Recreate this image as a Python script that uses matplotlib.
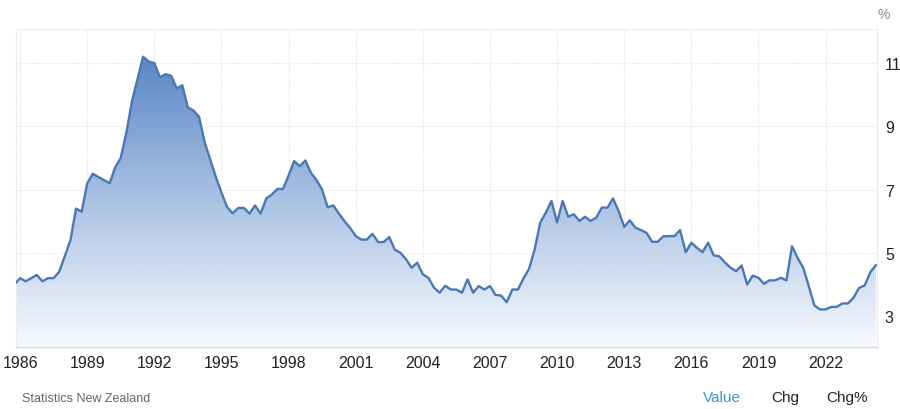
import numpy as np
import pandas as pd
import matplotlib
matplotlib.use("Agg")
import matplotlib.pyplot as plt
from matplotlib.colors import LinearSegmentedColormap

plt.rcParams['font.family'] = ['Liberation Sans', 'DejaVu Sans']

# quarterly unemployment rate (%), first point 1985 Q4
start_quarter = "1985-10-01"
rate = [
    4.0,
    4.2, 4.1, 4.2, 4.3,        # 1986
    4.1, 4.2, 4.2, 4.4,        # 1987
    4.9, 5.4, 6.4, 6.3,        # 1988
    7.2, 7.5, 7.4, 7.3,        # 1989
    7.2, 7.7, 8.0, 8.8,        # 1990
    9.8, 10.5, 11.2, 11.05,    # 1991
    11.0, 10.55, 10.65, 10.6,  # 1992
    10.2, 10.3, 9.6, 9.5,      # 1993
    9.3, 8.5, 7.95, 7.4,       # 1994
    6.9, 6.45, 6.25, 6.42,     # 1995
    6.42, 6.24, 6.5, 6.24,     # 1996
    6.72, 6.84, 7.02, 7.02,    # 1997
    7.45, 7.9, 7.74, 7.92,     # 1998
    7.53, 7.3, 7.0, 6.44,      # 1999
    6.5, 6.24, 6.0, 5.79,      # 2000
    5.53, 5.42, 5.42, 5.6,     # 2001
    5.34, 5.34, 5.5, 5.1,      # 2002
    5.0, 4.8, 4.53, 4.69,      # 2003
    4.32, 4.21, 3.9, 3.74,     # 2004
    3.96, 3.84, 3.84, 3.74,    # 2005
    4.16, 3.74, 3.95, 3.84,    # 2006
    3.95, 3.67, 3.65, 3.44,    # 2007
    3.84, 3.84, 4.19, 4.5,     # 2008
    5.12, 5.96, 6.27, 6.64,    # 2009
    5.96, 6.64, 6.14, 6.22,    # 2010
    6.01, 6.14, 6.01, 6.11,    # 2011
    6.43, 6.43, 6.72, 6.32,    # 2012
    5.82, 6.03, 5.8, 5.72,     # 2013
    5.63, 5.35, 5.35, 5.52,    # 2014
    5.53, 5.53, 5.72, 5.02,    # 2015
    5.32, 5.16, 5.02, 5.32,    # 2016
    4.92, 4.89, 4.7, 4.53,     # 2017
    4.42, 4.6, 4.0, 4.28,      # 2018
    4.21, 4.02, 4.13, 4.13,    # 2019
    4.21, 4.13, 5.21, 4.84,    # 2020
    4.53, 3.95, 3.34, 3.21,    # 2021
    3.21, 3.29, 3.29, 3.4,     # 2022
    3.4, 3.58, 3.89, 3.97,     # 2023
    4.39, 4.61,                # 2024
]
year_ticks = list(range(1986, 2023, 3))
y_ticks = [3, 5, 7, 9, 11]

dates = pd.date_range(start_quarter, periods=len(rate), freq="QS")
x = dates.year + (dates.dayofyear - 1) / 365.25
y = np.array(rate)

fig = plt.figure(figsize=(9, 4.1), dpi=100)
ax = fig.add_axes([0.0174, 0.151, 0.974 - 0.0174, 0.927 - 0.151])
ax.set_xlim(1985.8, 2024.28)
ax.set_ylim(2.02, 12.08)

# gradient fill under the line
cmap = LinearSegmentedColormap.from_list(
    "fade", [(0.97, 0.98, 1.0), (0.64, 0.74, 0.88), (0.29, 0.48, 0.75)])
poly = ax.fill_between(x, y, 2.02, color="none", lw=0)
grad = np.linspace(0, 1, 256).reshape(-1, 1)
img = ax.imshow(grad, cmap=cmap, origin="lower", aspect="auto",
                extent=[1985.8, 2024.28, 2.02, 12.08], zorder=1)
path = poly.get_paths()[0]
img.set_clip_path(path, transform=ax.transData)

ax.plot(x, y, color="#4a78b4", lw=1.7, solid_joinstyle="round", zorder=3)

# grid and frame
grid_kw = dict(color="#e4e4e4", lw=0.8, ls=(0, (1, 1)), zorder=0)
ax.set_xticks(year_ticks)
ax.set_yticks(y_ticks)
ax.grid(True, **{k: v for k, v in grid_kw.items() if k != "zorder"})
ax.set_axisbelow(True)
for side in ["top", "left", "right"]:
    ax.spines[side].set_color("#ececec")
    ax.spines[side].set_linewidth(0.8)
ax.spines["bottom"].set_color("#d8d8d8")
ax.spines["bottom"].set_linewidth(1.0)

ax.yaxis.tick_right()
ax.tick_params(axis="both", length=0, labelsize=11.5, colors="#333333")
ax.tick_params(axis="y", pad=6)
ax.tick_params(axis="x", pad=6)
for lbl in ax.get_xticklabels() + ax.get_yticklabels():
    lbl.set_color("#222222")

fig.text(0.989, 0.98, "%", ha="right", va="top", fontsize=10, color="#888888")
fig.text(0.024, 0.027, "Statistics New Zealand", ha="left", va="center",
         fontsize=9, color="#666666")
fig.text(0.802, 0.029, "Value", ha="center", va="center", fontsize=11,
         color="#3c93d6")
fig.text(0.872, 0.029, "Chg", ha="center", va="center", fontsize=11,
         color="#222222")
fig.text(0.941, 0.029, "Chg%", ha="center", va="center", fontsize=11,
         color="#222222")

fig.savefig("out.png", dpi=100)
